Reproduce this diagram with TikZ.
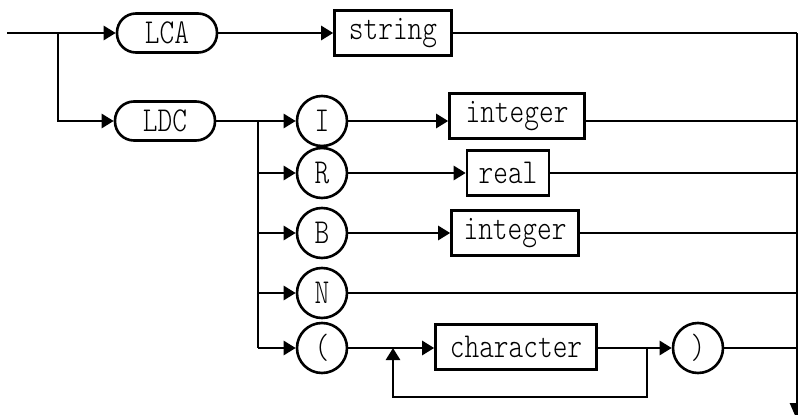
\documentclass[tikz,border=0pt]{standalone}
\usetikzlibrary{arrows.meta}
\newcommand{\lbl}{\fontsize{28}{30}\ttfamily\fontseries{l}\selectfont}
\newcommand{\plt}[1]{\scalebox{1}[1.25]{#1}}
\begin{document}
\begin{tikzpicture}[x=1pt,y=-1pt,
  line/.style={line width=2.6pt},
  arr/.style={line width=2.6pt,-{Triangle[length=12pt,width=14pt]}},
  term/.style={draw,line width=2.6pt,rounded corners=19pt,minimum width=100pt,minimum height=39pt,inner sep=0pt,font=\lbl},
  circ/.style={draw,circle,line width=2.6pt,minimum size=50pt,inner sep=0pt,font=\lbl},
  nonterm/.style={draw,rectangle,line width=2.6pt,minimum height=45pt,inner sep=0pt,font=\lbl}]
\useasboundingbox (0,0) rectangle (798,415);
% nodes
\node[term] (LCA) at (167,33) {\plt{LCA}};
\node[term] (LDC) at (165,121) {\plt{LDC}};
\node[nonterm,minimum width=117pt] (string) at (393,33) {\plt{string}};
\node[circ] (I) at (322,121) {\plt{I}};
\node[nonterm,minimum width=135pt] (int1) at (517,116) {\plt{integer}};
\node[circ] (R) at (322,173) {\plt{R}};
\node[nonterm,minimum width=82pt] (real) at (508,173) {\plt{real}};
\node[circ] (B) at (322,233) {\plt{B}};
\node[nonterm,minimum width=127pt] (int2) at (515,233) {\plt{integer}};
\node[circ] (N) at (322,293) {\plt{N}};
\node[circ] (lp) at (322,348) {\plt{(}};
\node[nonterm,minimum width=161pt] (char) at (516,347) {\plt{character}};
\node[circ] (rp) at (698,348) {\plt{)}};
% junction coordinates
\coordinate (start) at (7,33);
\coordinate (split) at (58,33);
\coordinate (split2) at (58,121);
\coordinate (busT) at (258,121);
\coordinate (busR) at (258,173);
\coordinate (busB) at (258,233);
\coordinate (busN) at (258,293);
\coordinate (busP) at (258,348);
\coordinate (r0) at (797,33);
\coordinate (rI) at (797,121);
\coordinate (rR) at (797,173);
\coordinate (rB) at (797,233);
\coordinate (rN) at (797,293);
\coordinate (rP) at (797,348);
\coordinate (rEnd) at (797,420);
\coordinate (j1) at (393,348);
\coordinate (j2) at (647,348);
\coordinate (lb1) at (647,397);
\coordinate (lb2) at (393,397);
% connectors
\draw[line] (start) -- (split);
\draw[arr] (split) -- (LCA);
\draw[arr] (split) -- (split2) -- (LDC);
\draw[arr] (LCA) -- (string);
\draw[line] (string) -- (r0);
\draw[line,-{Triangle[length=17pt,width=14pt]}] (r0) -- (rEnd);
\draw[line] (LDC) -- (busT) -- (busP);
\draw[arr] (busT) -- (I);
\draw[arr] (busR) -- (R);
\draw[arr] (busB) -- (B);
\draw[arr] (busN) -- (N);
\draw[arr] (busP) -- (lp);
\draw[arr] (I) -- (I -| int1.west);
\draw[arr] (R) -- (real);
\draw[arr] (B) -- (int2);
\draw[line] (I -| int1.east) -- (rI);
\draw[line] (real) -- (rR);
\draw[line] (int2) -- (rB);
\draw[line] (N) -- (rN);
\draw[arr] (lp) -- (lp -| char.west);
\draw[arr] (char.east |- rp) -- (rp);
\draw[arr] (j2) -- (lb1) -- (lb2) -- (j1);
\draw[line] (rp) -- (rP);
\end{tikzpicture}
\end{document}
